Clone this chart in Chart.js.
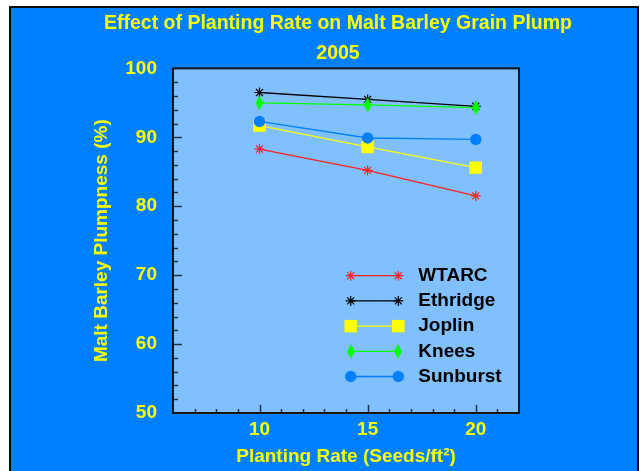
<!DOCTYPE html>
<html><head><meta charset="utf-8">
<script src="https://cdn.jsdelivr.net/npm/chart.js@4.4.1/dist/chart.umd.min.js"></script>
<style>html,body{margin:0;padding:0;background:#fff;}canvas{display:block;}</style>
</head><body>
<canvas id="c" width="642" height="471"></canvas>
<script>
// ---- data ----
const plantingRates = [10, 15, 20];
const seriesNames = ['WTARC', 'Ethridge', 'Joplin', 'Knees', 'Sunburst'];
const wtarcValues = [88.3, 85.2, 81.5];
const ethridgeValues = [96.5, 95.5, 94.5];
const joplinValues = [91.7, 88.6, 85.6];
const kneesValues = [95.0, 94.7, 94.3];
const sunburstValues = [92.3, 89.9, 89.7];
const xTickLabels = [10, 15, 20];
const yTickLabels = [50, 60, 70, 80, 90, 100];
const titleLines = ['Effect of Planting Rate on Malt Barley Grain Plump', '2005'];
const xAxisTitle = 'Planting Rate (Seeds/ft²)';
const yAxisTitle = 'Malt Barley Plumpness (%)';

// ---- styles ----
const FONT = "'Liberation Sans', Arial, Helvetica, sans-serif";
const YELLOW = '#FFFF00';
const BLUE = '#0080FF';
const PLOT_BG = '#80C0FF';

function makeDiamond(w, h, color) {
  const c = document.createElement('canvas');
  c.width = w; c.height = h;
  const g = c.getContext('2d');
  g.fillStyle = color;
  g.beginPath();
  g.moveTo(w / 2, 0); g.lineTo(w, h / 2); g.lineTo(w / 2, h); g.lineTo(0, h / 2);
  g.closePath(); g.fill();
  return c;
}
const kneesDiamond = makeDiamond(8, 15, '#00FF00');

function pts(vals) { return plantingRates.map((x, i) => ({ x: x, y: vals[i] })); }

function series(label, vals, color, pointStyle, radius, borderW, order) {
  return {
    label: label, data: pts(vals), borderColor: color, backgroundColor: color,
    borderWidth: 1.3, pointStyle: pointStyle, pointRadius: radius,
    pointBackgroundColor: color, pointBorderColor: color, pointBorderWidth: borderW,
    pointHoverRadius: radius, tension: 0, fill: false, order: order
  };
}

const datasets = [
  series(seriesNames[0], wtarcValues, '#FF2020', 'star', 5, 1.2, 5),
  series(seriesNames[1], ethridgeValues, '#000000', 'star', 5, 1.2, 4),
  series(seriesNames[2], joplinValues, '#FFFF00', 'rect', 8.8, 0, 3),
  series(seriesNames[3], kneesValues, '#00FF00', kneesDiamond, 7, 0, 2),
  series(seriesNames[4], sunburstValues, BLUE, 'circle', 5.7, 0, 1)
];

function drawMarker(ctx, ds, x, y) {
  const st = ds.pointStyle, r = ds.pointRadius;
  ctx.save();
  ctx.fillStyle = ds.pointBackgroundColor;
  ctx.strokeStyle = ds.pointBorderColor;
  ctx.lineWidth = ds.pointBorderWidth || 1;
  if (st instanceof HTMLCanvasElement) {
    ctx.drawImage(st, Math.round(x - st.width / 2), Math.round(y - st.height / 2));
  } else if (st === 'star') {
    ctx.beginPath();
    for (let k = 0; k < 4; k++) {
      const a = k * Math.PI / 4;
      ctx.moveTo(x + Math.cos(a) * r, y + Math.sin(a) * r);
      ctx.lineTo(x - Math.cos(a) * r, y - Math.sin(a) * r);
    }
    ctx.stroke();
  } else if (st === 'rect') {
    const s = Math.SQRT1_2 * r;
    ctx.fillRect(x - s, y - s, 2 * s, 2 * s);
  } else {
    ctx.beginPath(); ctx.arc(x, y, r, 0, Math.PI * 2); ctx.fill();
  }
  ctx.restore();
}

const frame = {
  id: 'frame',
  beforeDraw(chart) {
    const ctx = chart.ctx, ca = chart.chartArea;
    ctx.save();
    ctx.fillStyle = '#FFFFFF';
    ctx.fillRect(0, 0, chart.width, chart.height);
    ctx.fillStyle = BLUE;
    ctx.fillRect(10, 7, 628, chart.height);
    ctx.strokeStyle = '#0a0a0a';
    ctx.lineWidth = 2;
    ctx.strokeRect(10, 7, 628, chart.height + 10);
    ctx.fillStyle = PLOT_BG;
    ctx.fillRect(ca.left, ca.top, ca.right - ca.left, ca.bottom - ca.top);
    ctx.restore();
  },
  afterLayout(chart) {
    const t = chart.titleBlock;
    if (t) { const cx = 338, half = 280; t.left = cx - half; t.right = cx + half; t.width = 2 * half; }
  },
  afterDraw(chart) {
    const ctx = chart.ctx, ca = chart.chartArea;
    const xs = chart.scales.x, ys = chart.scales.y;
    ctx.save();
    // inward tick marks
    ctx.strokeStyle = '#22313f';
    ctx.lineWidth = 1.5;
    ctx.beginPath();
    for (let v = ys.min + 2; v < ys.max; v += 2) {
      const y = Math.round(ys.getPixelForValue(v)) + 0.5;
      const len = (v % 10 === 0) ? 9 : 5;
      ctx.moveTo(ca.left, y); ctx.lineTo(ca.left + len, y);
    }
    for (let v = xs.min + 1; v < xs.max; v += 1) {
      const x = Math.round(xs.getPixelForValue(v)) + 0.5;
      const len = (v % 5 === 0) ? 8 : 4;
      ctx.moveTo(x, ca.bottom); ctx.lineTo(x, ca.bottom - len);
    }
    ctx.stroke();
    // plot border
    ctx.strokeStyle = '#151515';
    ctx.lineWidth = 2;
    ctx.strokeRect(ca.left, ca.top, ca.right - ca.left, ca.bottom - ca.top);
    // legend
    const x1 = ca.right - 168.3, x2 = ca.right - 120.7, tx = ca.right - 100.7;
    const y0 = ca.bottom - 137.3, dy = 25.2;
    chart.data.datasets.forEach((ds, i) => {
      const y = y0 + i * dy;
      ctx.strokeStyle = ds.borderColor;
      ctx.lineWidth = 1.3;
      ctx.beginPath(); ctx.moveTo(x1, y); ctx.lineTo(x2, y); ctx.stroke();
      drawMarker(ctx, ds, x1, y);
      drawMarker(ctx, ds, x2, y);
      ctx.fillStyle = '#000000';
      ctx.font = 'bold 19px ' + FONT;
      ctx.textAlign = 'left';
      ctx.textBaseline = 'middle';
      ctx.fillText(ds.label, tx, y);
    });
    ctx.restore();
  }
};

new Chart(document.getElementById('c'), {
  type: 'line',
  data: { datasets: datasets },
  options: {
    responsive: false,
    devicePixelRatio: 1,
    animation: false,
    events: [],
    layout: { padding: { left: 0, right: 123, top: 0, bottom: 0 } },
    plugins: {
      legend: { display: false },
      tooltip: { enabled: false },
      title: {
        display: true, text: titleLines, color: YELLOW, fullSize: true,
        font: { family: FONT, size: 19.5, weight: 'bold', lineHeight: 1.523 },
        padding: { top: 9, bottom: 0 }
      }
    },
    scales: {
      x: {
        type: 'linear', position: 'bottom', min: 6, max: 22,
        afterBuildTicks: (s) => { s.ticks = xTickLabels.map(v => ({ value: v })); },
        afterFit: (s) => { s.height = 58; },
        grid: { display: false, drawTicks: false },
        border: { display: false },
        ticks: { color: YELLOW, padding: 5, autoSkip: false, maxRotation: 0,
                 font: { family: FONT, size: 19, weight: 'bold' } },
        title: { display: true, text: xAxisTitle, color: YELLOW,
                 font: { family: FONT, size: 19, weight: 'bold' }, padding: { top: 0, bottom: 3 } }
      },
      y: {
        type: 'linear', position: 'left', min: 50, max: 100,
        afterBuildTicks: (s) => { s.ticks = yTickLabels.map(v => ({ value: v })); },
        afterFit: (s) => { s.width = 173; },
        grid: { display: false, drawTicks: false },
        border: { display: false },
        ticks: { color: YELLOW, padding: 16, autoSkip: false,
                 font: { family: FONT, size: 19, weight: 'bold' } },
        title: { display: true, text: yAxisTitle, color: YELLOW,
                 font: { family: FONT, size: 19, weight: 'bold' }, padding: { top: 90, bottom: 0 } }
      }
    }
  },
  plugins: [frame]
});
</script>
</body></html>
